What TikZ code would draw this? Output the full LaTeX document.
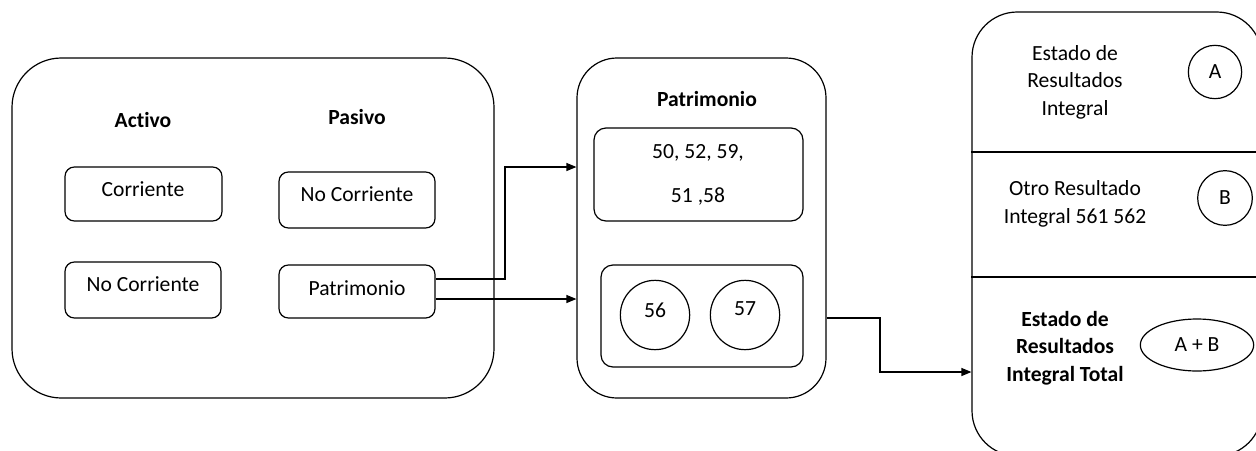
\documentclass[tikz,border=0pt]{standalone}
\usepackage{fontspec}
\setmainfont{Carlito}[Ligatures={NoCommon},RawFeature={-liga;-calt}]
\usetikzlibrary{arrows.meta,fit,shapes.geometric}
\begin{document}
\begin{tikzpicture}[x=0.75pt,y=-0.75pt,
  every node/.style={font=\fontsize{16.2}{19.8}\selectfont},
  box/.style={draw,line width=0.9pt,inner sep=0pt,rounded corners=#1},
  lbl/.style={inner sep=0pt,align=center},
  ring/.style={draw,line width=0.9pt,circle,inner sep=0pt,minimum size=#1},
  arr/.style={line width=0.9pt,-{Triangle[length=7.5pt,width=6pt]}},
  divider/.style={line width=1.5pt}]
\clip (0,0) rectangle (1256,450);
\fill[white] (0,0) rectangle (1256,450);
% left panel
\node[box=37pt,fit={(12,58) (494,398)}] (leftbox) {};
\node[lbl,font=\fontsize{16.2}{19.8}\selectfont\bfseries] (activo) at (143,120) {Activo};
\node[lbl,font=\fontsize{16.2}{19.8}\selectfont\bfseries] (pasivo) at (357,117) {Pasivo};
\node[box=7pt,fit={(65,167) (222,221)}] (corr) {};
\node[lbl] (corrT) at (143,189) {Corriente};
\node[box=7pt,fit={(279,172) (435,228)}] (pnc) {};
\node[lbl] (pncT) at (357,194) {No Corriente};
\node[box=7pt,fit={(65,262) (221,318)}] (anc) {};
\node[lbl] (ancT) at (143,284) {No Corriente};
\node[box=7pt,fit={(279,265) (435,318)}] (pat) {};
\node[lbl] (patT) at (357,288) {Patrimonio};
% middle panel
\node[box=30pt,fit={(577,58) (826,398)}] (mid) {};
\node[lbl,font=\fontsize{16.2}{19.8}\selectfont\bfseries] (midT) at (707,99) {Patrimonio};
\node[box=9pt,fit={(594,128) (803,221)}] (top) {};
\node[lbl] (topA) at (698,153) {50, 52, 59,};
\node[lbl] (topB) at (698,196) {51 ,58};
\node[box=9pt,fit={(601,265) (803,367)}] (bot) {};
\node[ring=52pt] (c56) at (655,315) {};
\node[lbl] (c56T) at (655,310) {56};
\node[ring=52pt] (c57) at (745,315) {};
\node[lbl] (c57T) at (745,309) {57};
% right panel
\node[box=34pt,fit={(972,12) (1262,456)}] (rightbox) {};
\coordinate (d1) at (1256,152);
\coordinate (d2) at (1256,277);
\draw[divider] (rightbox.west |- d1) -- (d1);
\draw[divider] (rightbox.west |- d2) -- (d2);
\node[lbl,font=\fontsize{16.2}{20.6}\selectfont] (esr) at (1075,82) {Estado de\\Resultados\\Integral};
\node[ring=40pt] (cA) at (1215,72) {A};
\node[lbl,font=\fontsize{16.2}{20.6}\selectfont] (ori) at (1075,204) {Otro Resultado\\Integral 561 562};
\node[ring=41pt] (cB) at (1225,198) {B};
\node[lbl,font=\fontsize{16.2}{20.6}\selectfont\bfseries] (esrt) at (1065,348) {Estado de\\Resultados\\Integral Total};
\node[draw,line width=0.9pt,ellipse,inner sep=0pt,minimum width=85pt,minimum height=39pt] (eAB) at (1197,345) {A + B};
% connectors
\coordinate (y1) at (0,279);
\coordinate (y2) at (0,299);
\coordinate (j1) at (505,167);
\coordinate (y3) at (0,318);
\coordinate (j2) at (880,372);
\draw[arr] (pat.east |- y1) -| (j1) -- (mid.west |- j1);
\draw[arr] (pat.east |- y2) -- (mid.west |- y2);
\draw[arr] (mid.east |- y3) -| (j2) -- (rightbox.west |- j2);
\end{tikzpicture}
\end{document}
